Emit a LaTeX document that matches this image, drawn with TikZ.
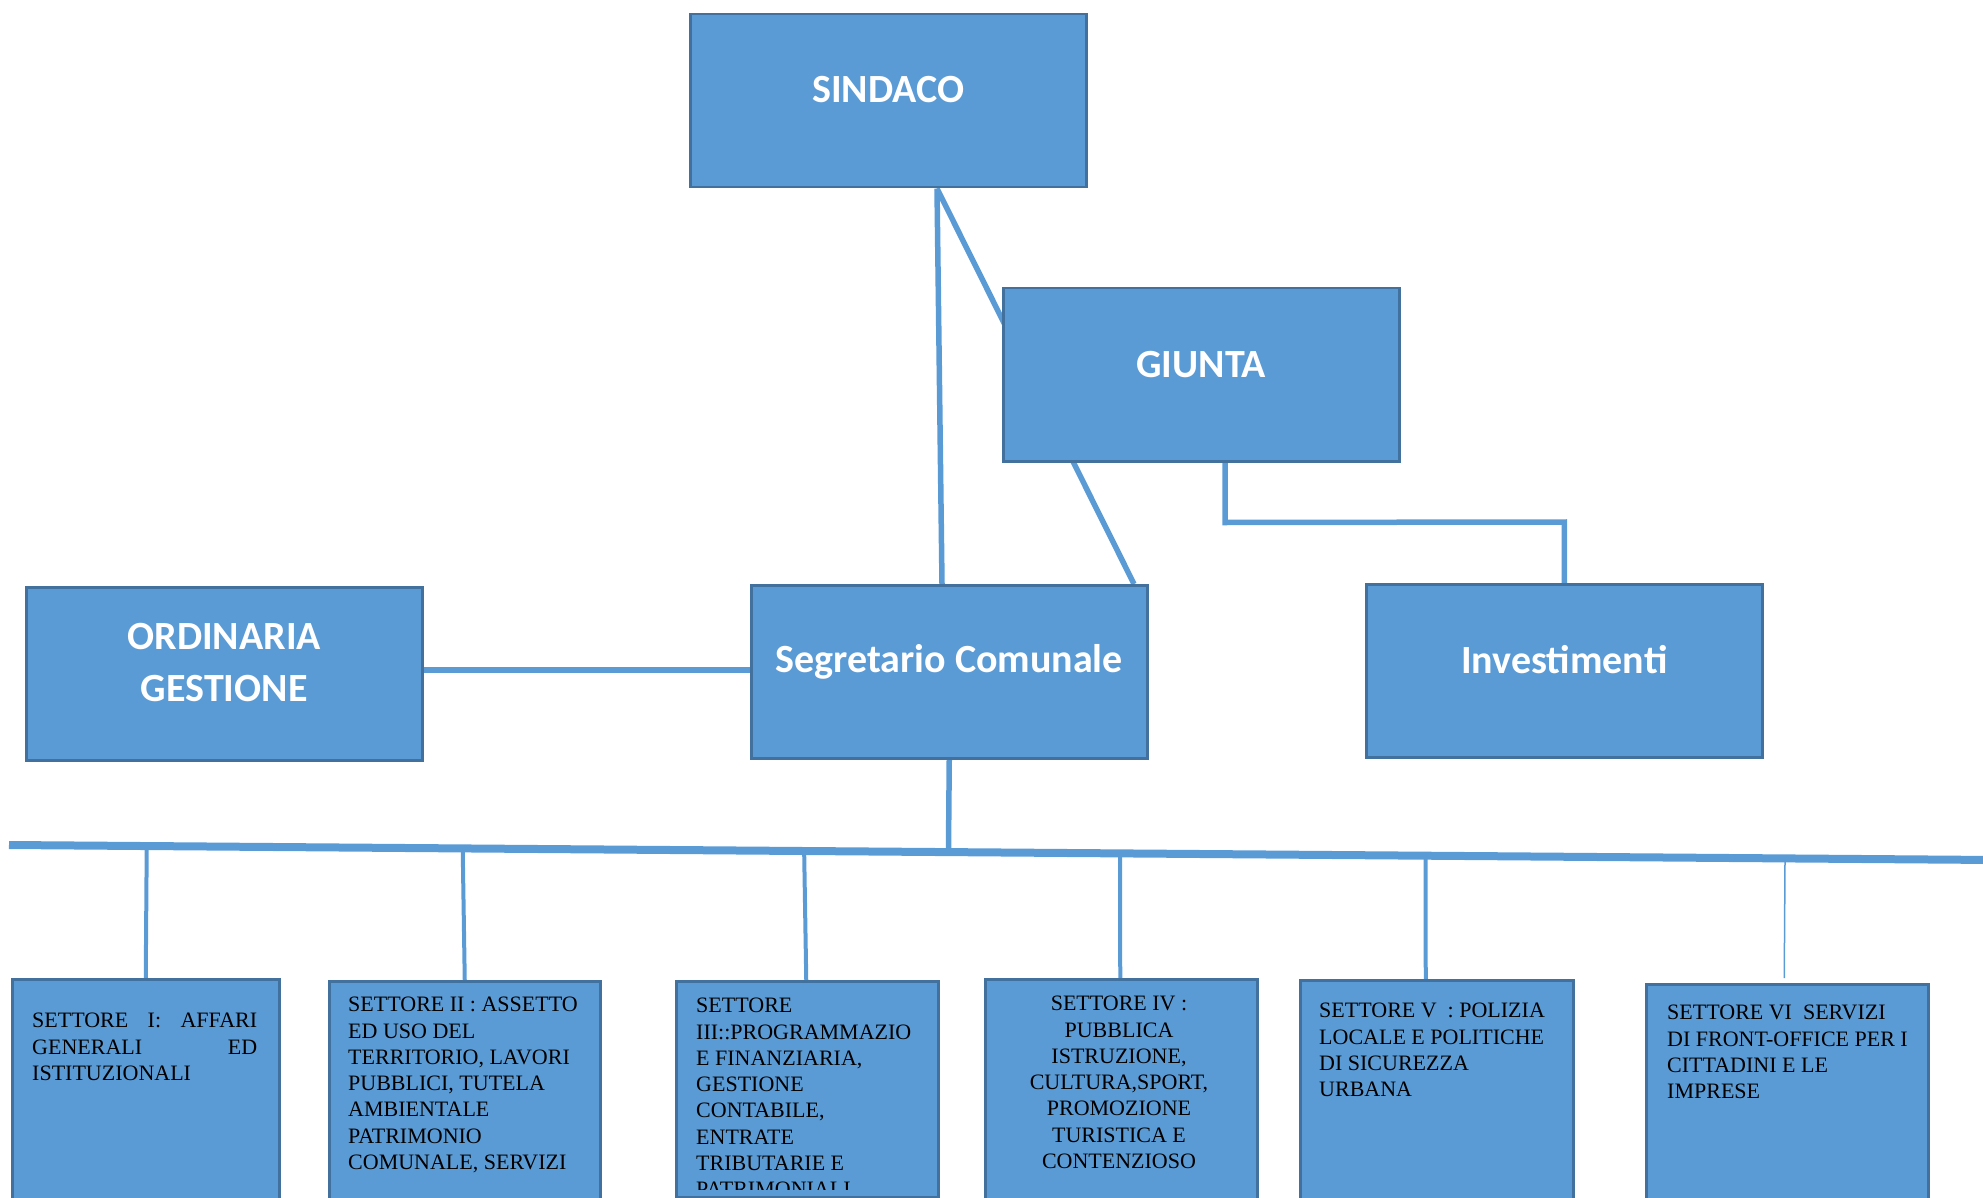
\documentclass[tikz,border=0pt]{standalone}
\usepackage{fontspec}
\setmainfont{Liberation Serif}
\newfontfamily\headfont{Carlito}
\usetikzlibrary{calc}
\definecolor{fillblue}{HTML}{5B9BD5}
\definecolor{edgeblue}{HTML}{41719C}
\definecolor{lineblue}{HTML}{5B9BD5}
\pgfdeclarelayer{bg}
\pgfsetlayers{bg,main}
\begin{document}
\begin{tikzpicture}[x=1pt,y=-1pt,
 box/.style={draw=edgeblue, fill=fillblue, line width=2.5pt, inner sep=0pt, anchor=north west, rectangle},
 bigbox/.style={box, minimum width=396pt, minimum height=173pt},
 head/.style={font=\headfont\bfseries\fontsize{40}{52}\selectfont, text=white, align=center, inner sep=0pt},
 body/.style={font=\fontsize{22}{26.3}\selectfont, text=black, inner sep=0pt, anchor=north west, align=left},
 conn/.style={draw=lineblue, line width=5.5pt},
 drop/.style={draw=lineblue, line width=4pt},
]
\useasboundingbox (0,0) rectangle (1983,1198);
\clip (0,0) rectangle (1983,1198);

% upper boxes
\node[bigbox] (sind) at (689,13) {};
\node[bigbox] (giun) at (1002,287) {};
\node[bigbox] (ord) at (25,586) {};
\node[bigbox] (seg) at (750,584) {};
\node[bigbox] (inv) at (1365,583) {};

\node[head] (sindT) at ([yshift=11pt]sind.center) {SINDACO};
\node[head] (giunT) at ([yshift=10.5pt]giun.center) {GIUNTA};
\node[head] (ordT) at ([yshift=11.5pt]ord.center) {ORDINARIA\\GESTIONE};
\node[head] (segT) at ([yshift=10pt]seg.center) {Segretario Comunale};
\node[head] (invT) at ([yshift=11.5pt]inv.center) {Investimenti};

% lower boxes
\node[box, minimum width=267pt, minimum height=237pt] (b1) at (11,978) {};
\node[box, minimum width=271pt, minimum height=235pt] (b2) at (328,980) {};
\node[box, minimum width=262pt, minimum height=216pt] (b3) at (675,980) {};
\node[box, minimum width=272pt, minimum height=237pt] (b4) at (984,978) {};
\node[box, minimum width=273pt, minimum height=236pt] (b5) at (1299,979) {};
\node[box, minimum width=282pt, minimum height=232pt] (b6) at (1645,983) {};

\node[body, text width=225pt] (t1) at (32,1013) {SETTORE\hfill I:\hfill AFFARI\\GENERALI\hfill ED\\ISTITUZIONALI};
\node[body] (t2) at (348,997) {SETTORE II : ASSETTO\\ED USO DEL\\TERRITORIO, LAVORI\\PUBBLICI, TUTELA\\AMBIENTALE\\PATRIMONIO\\COMUNALE, SERVIZI};
\begin{scope}
\clip (675,980) rectangle (937,1189);
\node[body] (t3) at (696,998) {SETTORE\\III::PROGRAMMAZIO\\E FINANZIARIA,\\GESTIONE\\CONTABILE,\\ENTRATE\\TRIBUTARIE E\\PATRIMONIALI};
\end{scope}
\node[body, anchor=north, align=center] (t4) at (1119,996) {SETTORE IV :\\PUBBLICA\\ISTRUZIONE,\\CULTURA,SPORT,\\PROMOZIONE\\TURISTICA E\\CONTENZIOSO};
\node[body] (t5) at (1319,1003) {SETTORE V~~: POLIZIA\\LOCALE E POLITICHE\\DI SICUREZZA\\URBANA};
\node[body] (t6) at (1667,1005) {SETTORE VI~~SERVIZI\\DI FRONT-OFFICE PER I\\CITTADINI E LE\\IMPRESE};

\coordinate (busL) at (9,845);
\coordinate (busR) at (1995,860);

\begin{pgfonlayer}{bg}
\draw[conn] ([xshift=248pt]sind.south west) -- ([xshift=192pt]seg.north west);
\draw[conn] ([xshift=248pt]sind.south west) -- ([xshift=384pt]seg.north west);
\coordinate (gA) at ([xshift=223pt,yshift=-60pt]giun.south west);
\coordinate (gB) at ([yshift=61pt]inv.north);
\draw[conn] (gA |- giun.south) -- (gA) -- (gB) -- (inv.north);
\coordinate (oR) at ([yshift=4pt]ord.east);
\draw[conn] (oR) -- (oR -| seg.west);
\draw[conn] (seg.south) -- ($(busL)!(seg.south)!(busR)$);
\draw[draw=lineblue, line width=8pt] (busL) -- (busR);
\draw[drop] ($(busL)!(b1.north)!(busR)$) -- (b1.north);
\draw[drop] ($(busL)!([xshift=-3pt]b2.north)!(busR)$) -- (b2.north);
\draw[drop] ($(busL)!([xshift=-4pt]b3.north)!(busR)$) -- ([xshift=-1pt]b3.north);
\draw[drop] ($(busL)!([xshift=-2pt]b4.north)!(busR)$) -- ([xshift=-1pt]b4.north);
\draw[drop] ($(busL)!([xshift=-12pt]b5.north)!(busR)$) -- ([xshift=-11pt]b5.north);
\draw[draw=lineblue, line width=1.5pt] ($(busL)!([xshift=-3pt]b6.north)!(busR)$) -- ([xshift=-3pt,yshift=5pt]b6.north);
\end{pgfonlayer}
\end{tikzpicture}
\end{document}
